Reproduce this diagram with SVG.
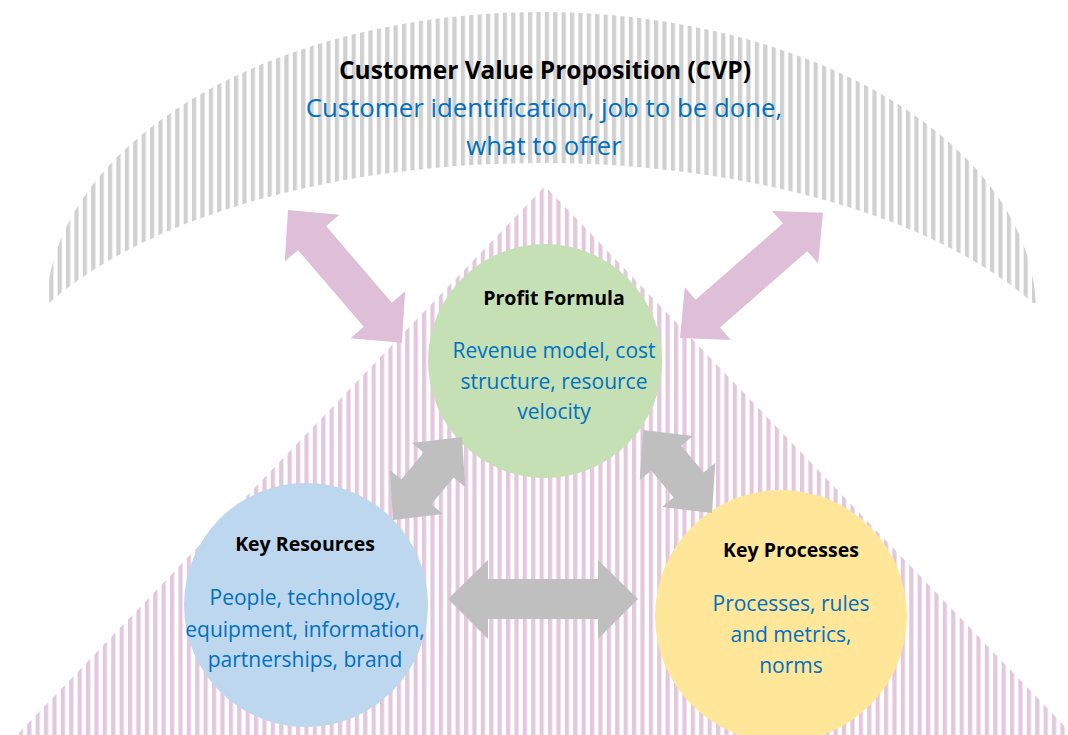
<svg xmlns="http://www.w3.org/2000/svg" width="1068" height="735" viewBox="0 0 1068 735">
<defs>
<pattern id="stripeGrey" patternUnits="userSpaceOnUse" x="444" y="0" width="8.4" height="20"><rect width="4.2" height="20" fill="#d0d0d0"/></pattern>
<pattern id="stripePink" patternUnits="userSpaceOnUse" x="2" y="0" width="8.4" height="20"><rect width="4.2" height="20" fill="#e2c8dc"/></pattern>
<clipPath id="archClip"><rect x="0" y="0" width="1068" height="303"/></clipPath>
<style>
.title{font-family:"Open Sans","Liberation Sans",sans-serif;font-weight:bold;fill:#000;text-anchor:middle}
.body{font-family:"Open Sans","Liberation Sans",sans-serif;fill:#0070c0;text-anchor:middle}
.pink{fill:#dfbfd8}
.grey{fill:#bfbfbf}
</style>
</defs>
<rect width="1068" height="735" fill="#ffffff"/>
<g id="cvp">
<path clip-path="url(#archClip)" fill-rule="evenodd" fill="url(#stripeGrey)" d="M 46,312 A 495 300 0 1 1 1036,312 A 495 300 0 1 1 46,312 Z M -19,431 A 560 268 0 1 1 1101,431 A 560 268 0 1 1 -19,431 Z"/>
<text class="title" x="545" y="79" font-size="24.5">Customer Value Proposition (CVP)</text>
<text class="body" x="544" y="117" font-size="25.8">Customer identification, job to be done,</text>
<text class="body" x="544" y="155" font-size="25.8">what to offer</text>
</g>
<g id="foundation">
<polygon points="545,186 17,735 1073,735" fill="url(#stripePink)"/>
</g>
<g id="profit-formula">
<circle cx="545" cy="361" r="117" fill="#c5e0b4"/>
</g>
<g id="key-resources">
<circle cx="306" cy="605" r="122" fill="#bdd7ee"/>
</g>
<g id="key-processes">
<circle cx="781" cy="616" r="126" fill="#ffe699"/>
</g>
<g id="connectors">
<polygon class="pink" transform="translate(288,210) rotate(49.4)" points="0,0 37,-36 37,-18.5 138,-18.5 138,-36 175,0 138,36 138,18.5 37,18.5 37,36"/>
<polygon class="pink" transform="translate(680,338) rotate(-41.2)" points="0,0 37,-35 37,-18.5 153,-18.5 153,-35 190,0 153,35 153,18.5 37,18.5 37,35"/>
<polygon class="grey" transform="translate(393,520) rotate(-50.3)" points="0,0 36.5,-34.5 36.5,-19.5 71.5,-19.5 71.5,-34.5 108,0 71.5,34.5 71.5,19.5 36.5,19.5 36.5,34.5"/>
<polygon class="grey" transform="translate(643,430) rotate(50.3)" points="0,0 36.5,-34.5 36.5,-19.5 71.5,-19.5 71.5,-34.5 108,0 71.5,34.5 71.5,19.5 36.5,19.5 36.5,34.5"/>
<polygon class="grey" points="448,599 488,560 488,579 598,579 598,560 638,599 598,639 598,619 488,619 488,639"/>
</g>
<g id="profit-formula-text">
<text class="title" x="554" y="305" font-size="19.5">Profit Formula</text>
<text class="body" x="554" y="358" font-size="21">Revenue model, cost</text>
<text class="body" x="554" y="389" font-size="21">structure, resource</text>
<text class="body" x="554" y="419" font-size="21">velocity</text>
</g>
<g id="key-resources-text">
<text class="title" x="305" y="551" font-size="19.5">Key Resources</text>
<text class="body" x="305" y="605" font-size="21">People, technology,</text>
<text class="body" x="305" y="637" font-size="21">equipment, information,</text>
<text class="body" x="305" y="667" font-size="21">partnerships, brand</text>
</g>
<g id="key-processes-text">
<text class="title" x="791" y="557" font-size="19.5">Key Processes</text>
<text class="body" x="791" y="611" font-size="21">Processes, rules</text>
<text class="body" x="791" y="642" font-size="21">and metrics,</text>
<text class="body" x="791" y="673" font-size="21">norms</text>
</g>
</svg>
